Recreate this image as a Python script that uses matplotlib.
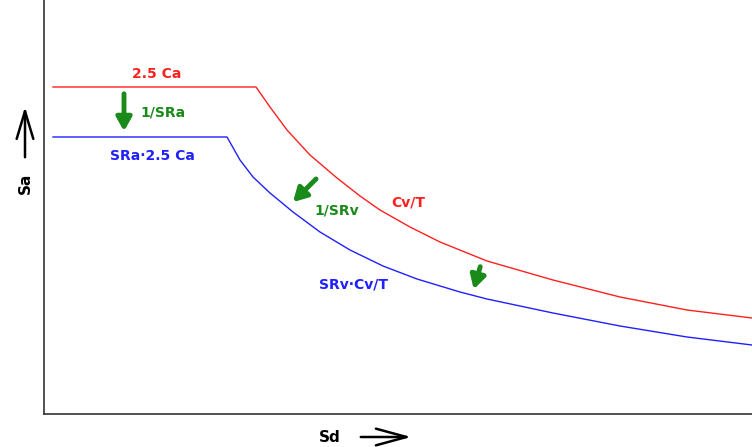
import matplotlib
matplotlib.use("Agg")
import matplotlib.pyplot as plt
from matplotlib.patches import FancyArrowPatch

W, H = 752, 447
# data in axis units (x from left spine, y up from bottom spine)
red_x = [9, 212, 226, 243, 266, 293, 316, 336, 366, 396, 443, 509, 576, 643, 708]
red_y = [327, 327, 307, 284, 259, 236, 218, 204, 187, 172, 153, 134, 117, 104, 96]
blue_x = [9, 183, 196, 209, 226, 249, 276, 306, 339, 373, 416, 443, 509, 576, 643, 708]
blue_y = [277, 277, 254, 237, 221, 202, 182, 164, 148, 135, 122, 115, 101, 88, 77, 69]

fig = plt.figure(figsize=(W/100, H/100), dpi=100)
ax = fig.add_axes([44/W, 33/H, 1-44/W, 1-33/H])
ax.set_xlim(0, 708)
ax.set_ylim(0, 414)
ax.plot(red_x, red_y, color='#ff2020', lw=1.0)
ax.plot(blue_x, blue_y, color='#2020ff', lw=1.0)
for s in ['top', 'right']:
    ax.spines[s].set_visible(False)
for s in ['left', 'bottom']:
    ax.spines[s].set_color('#333333')
    ax.spines[s].set_linewidth(1.2)
ax.set_xticks([])
ax.set_yticks([])

green = '#1a8a1a'
fs = 10
ax.text(113, 340, '2.5 Ca', color='#ff2020', fontsize=fs, fontweight='bold', ha='center', va='center')
ax.text(108, 258, 'SRa·2.5 Ca', color='#2020ff', fontsize=fs, fontweight='bold', ha='center', va='center')
ax.text(364, 211, 'Cv/T', color='#ff2020', fontsize=fs, fontweight='bold', ha='center', va='center')
ax.text(310, 129, 'SRv·Cv/T', color='#2020ff', fontsize=fs, fontweight='bold', ha='center', va='center')
ax.text(96, 302, '1/SRa', color=green, fontsize=fs, fontweight='bold', ha='left', va='center')
ax.text(270, 203, '1/SRv', color=green, fontsize=fs, fontweight='bold', ha='left', va='center')

akw = dict(arrowstyle='-|>,head_width=0.45,head_length=0.8', color=green, lw=3.5)
ax.annotate('', xy=(80, 280), xytext=(80, 323), arrowprops=akw)
ax.annotate('', xy=(247, 210), xytext=(274, 237), arrowprops=akw)
ax.annotate('', xy=(429, 122), xytext=(437, 150), arrowprops=akw)

# axis labels with arrows
fig.text(25/W, 1-183/H, 'Sa', rotation=90, fontsize=11, fontweight='bold', ha='center', va='center')
fig.patches.append(FancyArrowPatch((25/W, 1-160/H), (25/W, 1-104/H),
    transform=fig.transFigure, arrowstyle='->,head_width=0.3,head_length=1.0',
    mutation_scale=20, color='black', lw=1.8))
fig.text(330/W, 1-437/H, 'Sd', fontsize=11, fontweight='bold', ha='center', va='center')
fig.patches.append(FancyArrowPatch((358/W, 1-437/H), (414/W, 1-437/H),
    transform=fig.transFigure, arrowstyle='->,head_width=0.3,head_length=1.1',
    mutation_scale=20, color='black', lw=1.8))

fig.savefig('out.png', dpi=100, facecolor='white')
